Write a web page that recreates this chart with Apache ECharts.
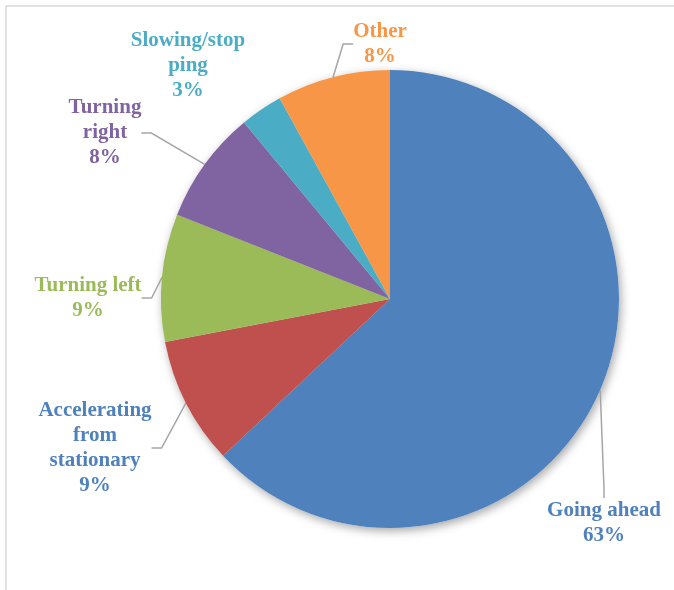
<!DOCTYPE html>
<html>
<head>
<meta charset="utf-8">
<script src="https://cdn.jsdelivr.net/npm/echarts@6/dist/echarts.min.js"></script>
<style>
  html, body { margin: 0; padding: 0; background: #fff; }
  #chart { width: 674px; height: 590px; }
</style>
</head>
<body>
<div id="chart"></div>
<script>
// slices, clockwise from 12 o'clock
var categories = ['Going ahead', 'Accelerating from stationary', 'Turning left', 'Turning right', 'Slowing/stopping', 'Other']
var labelTexts = ['Going ahead', 'Accelerating\nfrom\nstationary', 'Turning left', 'Turning\nright', 'Slowing/stop\nping', 'Other']
var values = [63, 9, 9, 8, 3, 8]
var colors = ['#4F81BD', '#C0504D', '#9BBB59', '#8064A2', '#4BACC6', '#F79646']
// label text colours (the accelerating label is blue in the original)
var labelColors = ['#4F81BD', '#4F81BD', '#9BBB59', '#8064A2', '#4BACC6', '#F79646']

// where each data label sits (centre of text block)
var labelSpots = [[604, 523], [95, 448], [88, 298], [105, 133], [188, 66], [380, 44]]

var chart = echarts.init(document.getElementById('chart'))

var seriesData = []
for (var i = 0; i < categories.length; i++) {
  seriesData.push({
    name: categories[i],
    value: values[i],
    itemStyle: { color: colors[i] },
    label: {
      color: labelColors[i],
      formatter: labelTexts[i] + '\n' + values[i] + '%'
    },
    labelLine: { show: i !== 4 }
  })
}

var option = {
  animation: false,
  graphic: [{
    type: 'rect',
    shape: { x: 6, y: 6, width: 720, height: 640 },
    style: { fill: 'none', stroke: '#d9d9d9', lineWidth: 1.5 },
    silent: true
  }],
  series: [
    {
      // shadow underneath the pie
      type: 'pie',
      silent: true,
      z: 1,
      center: [390, 299],
      radius: 229,
      startAngle: 90,
      clockwise: true,
      label: { show: false },
      labelLine: { show: false },
      itemStyle: {
        color: '#fff',
        shadowBlur: 10,
        shadowOffsetX: 2,
        shadowOffsetY: 3,
        shadowColor: 'rgba(0,0,0,0.35)'
      },
      data: values
    },
    {
      type: 'pie',
      z: 2,
      center: [390, 299],
      radius: 229,
      startAngle: 90,
      clockwise: true,
      avoidLabelOverlap: false,
      label: {
        show: true,
        fontFamily: 'Liberation Serif',
        fontWeight: 'bold',
        fontSize: 21,
        lineHeight: 25,
        align: 'center'
      },
      labelLine: {
        show: true,
        length: 12,
        length2: 10,
        lineStyle: { color: '#a6a6a6', width: 1.5 }
      },
      labelLayout: function (params) {
        var p = labelSpots[params.dataIndex]
        return {
          x: p[0],
          y: p[1],
          align: 'center',
          verticalAlign: 'middle'
        }
      },
      data: seriesData
    }
  ]
}

chart.setOption(option)
</script>
</body>
</html>
